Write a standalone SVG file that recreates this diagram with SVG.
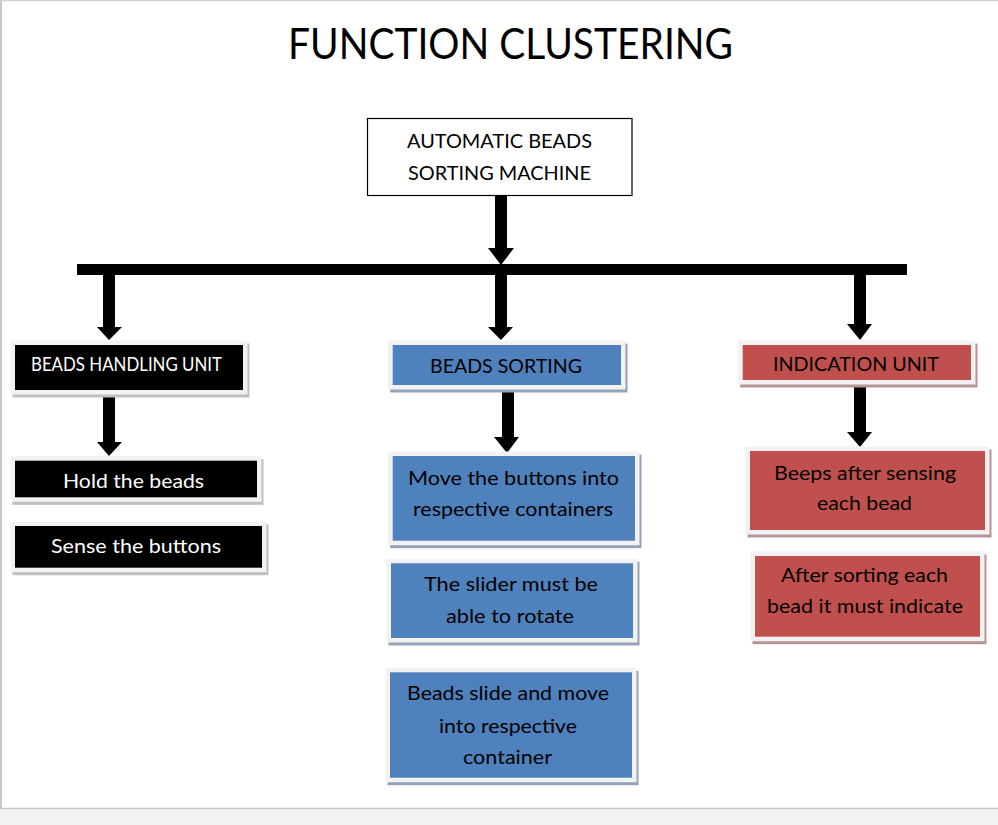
<svg xmlns="http://www.w3.org/2000/svg" width="998" height="825" viewBox="0 0 998 825">
<style>
text{font-family:Lato,"Open Sans","Liberation Sans",sans-serif;font-size:20px;text-anchor:middle;}
.w{fill:#ffffff}
.k{fill:#000000}
.frm{fill:#f2f2f2}
.blk{fill:#000000}
.blu{fill:#4f81bd}
.red{fill:#c0504d}
.shk{fill:#bfbfbf}
.shb{fill:#95a3ba}
.shr{fill:#b99494}
.arrow{fill:#000000}
</style>
<rect x="0" y="0" width="998" height="825" fill="#ffffff"/>
<rect x="0" y="808" width="998" height="17" fill="#f2f2f2"/>
<line x1="0" y1="808.5" x2="998" y2="808.5" stroke="#c8c8c8" stroke-width="1.5"/>
<line x1="1" y1="0" x2="1" y2="808" stroke="#c8c8c8" stroke-width="2"/>
<line x1="0" y1="0.5" x2="998" y2="0.5" stroke="#d0d0d0" stroke-width="1.5"/>

<text id="title" x="510.5" y="59" style="font-size:42px" textLength="445" lengthAdjust="spacingAndGlyphs">FUNCTION CLUSTERING</text>

<g id="connectors">
<rect x="77" y="264" width="830" height="11" class="arrow"/>
<polygon class="arrow" points="495,196 507,196 507,248 514,248 501,265 488,248 495,248"/>
<polygon class="arrow" points="103,275 115,275 115,327 122,327 109,340 97,327 103,327"/>
<polygon class="arrow" points="495,275 507,275 507,327 513,327 501,340 488,327 495,327"/>
<polygon class="arrow" points="854,275 866,275 866,324 872,324 860,340 847,324 854,324"/>
<polygon class="arrow" points="103,397 115,397 115,442 122,442 109,456 97,442 103,442"/>
<polygon class="arrow" points="502,390 514,390 514,437 519,437 507,453 494,437 502,437"/>
<polygon class="arrow" points="854,386 866,386 866,432 872,432 860,447 847,432 854,432"/>
</g>

<g id="node-root">
<rect x="367.5" y="118.5" width="264.5" height="77" fill="#ffffff" stroke="#000000" stroke-width="1.2"/>
<text x="499.5" y="148" class="k" textLength="185" lengthAdjust="spacingAndGlyphs">AUTOMATIC BEADS</text>
<text x="499.5" y="180" class="k" textLength="183" lengthAdjust="spacingAndGlyphs">SORTING MACHINE</text>
</g>

<g id="node-handling">
<rect x="12.5" y="343.5" width="237" height="54" class="shk"/>
<rect x="10.5" y="340.5" width="237" height="54" class="frm"/>
<rect x="15" y="345" width="228" height="45" class="blk"/>
<text x="126.5" y="371" class="w" textLength="191" lengthAdjust="spacingAndGlyphs">BEADS HANDLING UNIT</text>
</g>

<g id="node-sorting">
<rect x="390.2" y="343.5" width="237.3" height="49" class="shb"/>
<rect x="388.2" y="340.5" width="237.3" height="49" class="frm"/>
<rect x="392.7" y="345" width="228.3" height="40" class="blu"/>
<text x="506" y="373" class="k" textLength="152" lengthAdjust="spacingAndGlyphs">BEADS SORTING</text>
</g>

<g id="node-indication">
<rect x="740.2" y="343.5" width="237.3" height="44" class="shr"/>
<rect x="738.2" y="340.5" width="237.3" height="44" class="frm"/>
<rect x="742.7" y="345" width="228.3" height="35" class="red"/>
<text x="856" y="371" class="k" textLength="166" lengthAdjust="spacingAndGlyphs">INDICATION UNIT</text>
</g>

<g id="node-hold">
<rect x="12.5" y="459.2" width="251" height="45.6" class="shk"/>
<rect x="10.5" y="456.2" width="251" height="45.6" class="frm"/>
<rect x="15" y="460.7" width="242" height="36.6" class="blk"/>
<text x="133.5" y="488" class="w" textLength="141" lengthAdjust="spacingAndGlyphs">Hold the beads</text>
</g>

<g id="node-sense">
<rect x="12.5" y="524.5" width="256" height="50.7" class="shk"/>
<rect x="10.5" y="521.5" width="256" height="50.7" class="frm"/>
<rect x="15" y="526" width="247" height="41.7" class="blk"/>
<text x="136" y="553" class="w" textLength="170" lengthAdjust="spacingAndGlyphs">Sense the buttons</text>
</g>

<g id="node-move">
<rect x="390.2" y="454.5" width="251.3" height="93.7" class="shb"/>
<rect x="388.2" y="451.5" width="251.3" height="93.7" class="frm"/>
<rect x="392.7" y="456" width="242.3" height="84.7" class="blu"/>
<text x="513.5" y="485" class="k" textLength="211" lengthAdjust="spacingAndGlyphs">Move the buttons into</text>
<text x="513" y="516" class="k" textLength="200" lengthAdjust="spacingAndGlyphs">respective containers</text>
</g>

<g id="node-slider">
<rect x="388.5" y="561.8" width="251" height="83.7" class="shb"/>
<rect x="386.5" y="558.8" width="251" height="83.7" class="frm"/>
<rect x="391" y="563.3" width="242" height="74.7" class="blu"/>
<text x="511" y="591" class="k" textLength="174" lengthAdjust="spacingAndGlyphs">The slider must be</text>
<text x="510" y="623" class="k" textLength="128" lengthAdjust="spacingAndGlyphs">able to rotate</text>
</g>

<g id="node-slide">
<rect x="387.5" y="670.8" width="251" height="114.4" class="shb"/>
<rect x="385.5" y="667.8" width="251" height="114.4" class="frm"/>
<rect x="390" y="672.3" width="242" height="105.4" class="blu"/>
<text x="508" y="700" class="k" textLength="202" lengthAdjust="spacingAndGlyphs">Beads slide and move</text>
<text x="508" y="733" class="k" textLength="138" lengthAdjust="spacingAndGlyphs">into respective</text>
<text x="507.5" y="764" class="k" textLength="89" lengthAdjust="spacingAndGlyphs">container</text>
</g>

<g id="node-beeps">
<rect x="747.5" y="449.5" width="244" height="88" class="shr"/>
<rect x="745.5" y="446.5" width="244" height="88" class="frm"/>
<rect x="750" y="451" width="235" height="79" class="red"/>
<text x="865" y="480" class="k" textLength="182" lengthAdjust="spacingAndGlyphs">Beeps after sensing</text>
<text x="864.5" y="510" class="k" textLength="95" lengthAdjust="spacingAndGlyphs">each bead</text>
</g>

<g id="node-after">
<rect x="752.5" y="554.5" width="234" height="89.7" class="shr"/>
<rect x="750.5" y="551.5" width="234" height="89.7" class="frm"/>
<rect x="755" y="556" width="225" height="80.7" class="red"/>
<text x="864.5" y="582" class="k" textLength="167" lengthAdjust="spacingAndGlyphs">After sorting each</text>
<text x="865" y="613" class="k" textLength="196" lengthAdjust="spacingAndGlyphs">bead it must indicate</text>
</g>
</svg>
